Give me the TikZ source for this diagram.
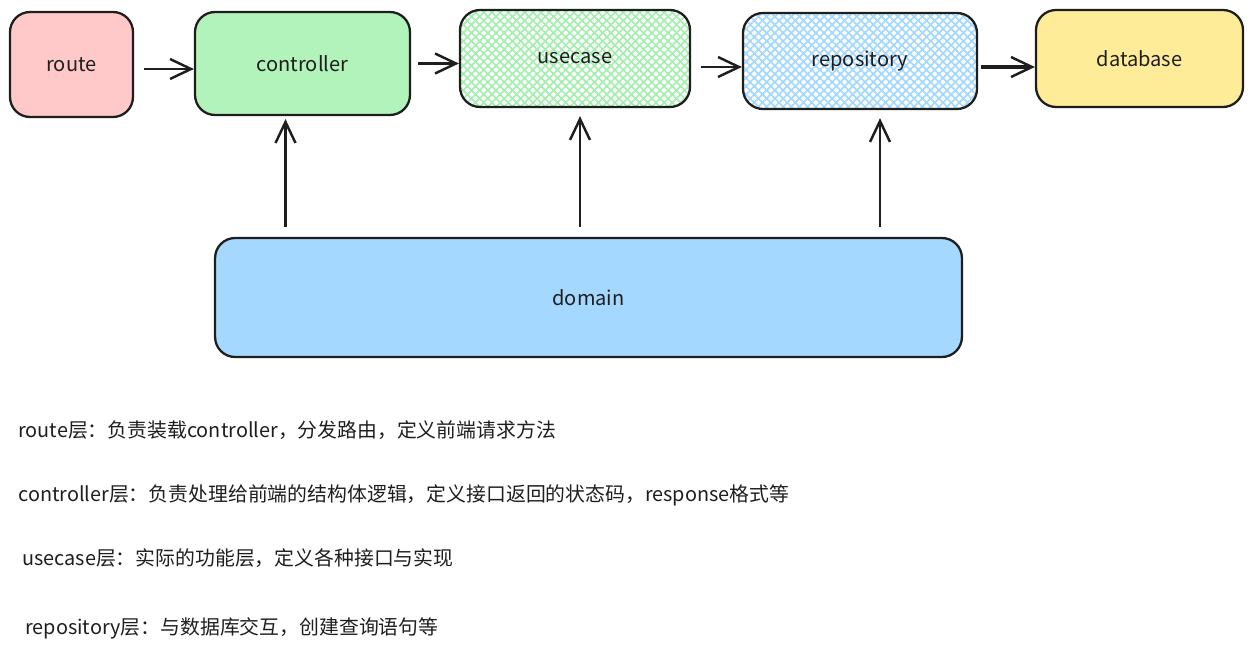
\documentclass[tikz,border=0pt]{standalone}
\usepackage{tikz}
\usepackage{xcolor}
\usepackage{fontspec}
\newfontfamily\cjk{Noto Sans CJK SC}
\usetikzlibrary{arrows.meta}
\usetikzlibrary{patterns.meta}
\definecolor{ink}{HTML}{1E1E1E}
\definecolor{rtred}{HTML}{FFC9C9}
\definecolor{ctlgreen}{HTML}{B2F2BB}
\definecolor{ucgreen}{HTML}{A6EEB0}
\definecolor{rpblue}{HTML}{A5D8FF}
\definecolor{dbyellow}{HTML}{FFEC99}

\begin{document}
\begin{tikzpicture}[x=0.02cm,y=-0.02cm,
    box/.style={draw=ink,line width=1.3pt,rounded corners=0.4cm,inner sep=0pt,
      font=\cjk\fontsize{11.4}{13}\selectfont,text=ink},
    hatch/.style={box,
      preaction={pattern={Lines[angle=45,distance=3.3pt,line width=1pt]},pattern color=#1},
      preaction={pattern={Lines[angle=-45,distance=3.3pt,line width=1pt]},pattern color=#1}},
    arr/.style={draw=ink,line width=1.4pt,-{Straight Barb[length=0.42cm,width=0.4cm,line width=1.4pt]}},
    note/.style={anchor=west,inner sep=0pt,font=\cjk\fontsize{11.3}{13}\selectfont,text=ink}]
  \useasboundingbox (0,0) rectangle (1253,652);
  \node (rt) [box,fill=rtred,minimum width=2.46cm,minimum height=2.1cm] at (71.5,64.5) {route};
  \node (ctl) [box,fill=ctlgreen,minimum width=4.3cm,minimum height=2.06cm] at (302.5,63.5) {controller};
  \node (uc) [hatch=ucgreen,minimum width=4.6cm,minimum height=1.94cm] at (575,58.5) {usecase};
  \node (rp) [hatch=rpblue,minimum width=4.68cm,minimum height=1.92cm] at (860,61) {repository};
  \node (db) [box,fill=dbyellow,minimum width=4.14cm,minimum height=1.94cm] at (1139.5,58.5) {database};
  \node (dm) [box,fill=rpblue,minimum width=14.94cm,minimum height=2.38cm] at (588.5,297.5) {domain};

  \draw[arr,shorten <=0.2cm] ([yshift=-0.09cm]rt.east) -- ([yshift=-0.09cm]rt.east -| ctl.west);
  \draw[arr,shorten <=0.14cm] (ctl.east) -- (ctl.east -| uc.west);
  \draw[arr,shorten <=0.2cm] ([yshift=-0.17cm]uc.east) -- ([yshift=-0.17cm]uc.east -| rp.west);
  \draw[arr,line width=1.8pt,shorten <=0.06cm] ([yshift=-0.12cm]rp.east) -- ([yshift=-0.12cm]rp.east -| db.west);

  \draw[arr,shorten <=0.2cm] ([xshift=-0.34cm]ctl.south |- dm.north) -- ([xshift=-0.34cm,yshift=-0.06cm]ctl.south);
  \draw[arr,shorten <=0.2cm] ([xshift=0.1cm]uc.south |- dm.north) -- ([xshift=0.1cm,yshift=-0.16cm]uc.south);
  \draw[arr,shorten <=0.2cm] ([xshift=0.4cm]rp.south |- dm.north) -- ([xshift=0.4cm,yshift=-0.16cm]rp.south);

  \node (n1) [note] at (18,430) {route层：负责装载controller，分发路由，定义前端请求方法};
  \node (n2) [note] at (18,495) {controller层：负责处理给前端的结构体逻辑，定义接口返回的状态码，response格式等};
  \node (n3) [note] at (22,558) {usecase层：实际的功能层，定义各种接口与实现};
  \node (n4) [note] at (25,628) {repository层：与数据库交互，创建查询语句等};
\end{tikzpicture}
\end{document}
